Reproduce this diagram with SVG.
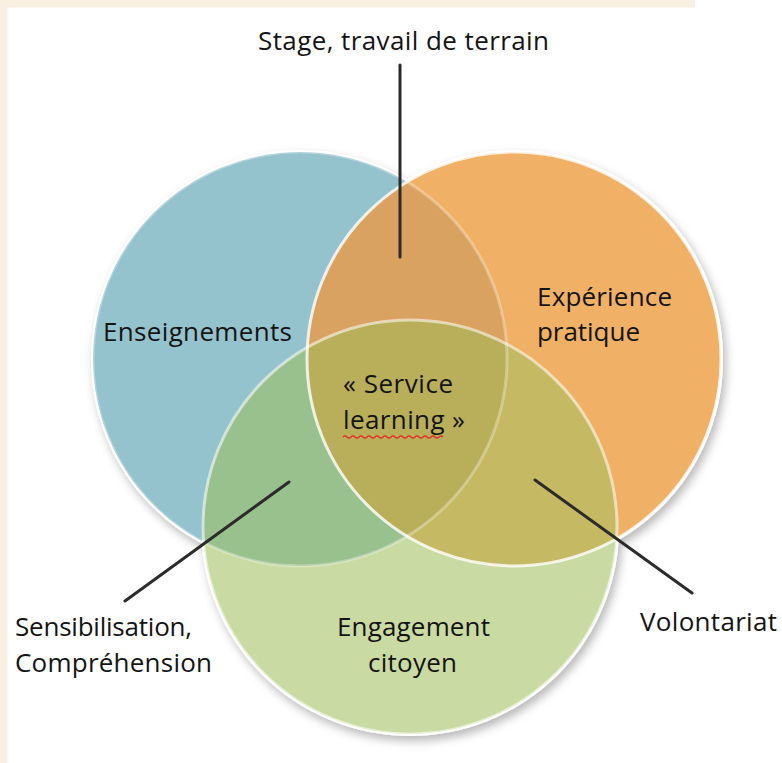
<svg xmlns="http://www.w3.org/2000/svg" width="782" height="763" viewBox="0 0 782 763">
  <style>
    .lbl { font-family: "Open Sans", Lato, "Liberation Sans", sans-serif; font-size: 26px; fill: #141414; font-variant-ligatures: none; }
    .edge { fill: none; stroke: #ffffff; stroke-width: 3; }
    .conn { stroke: #2b2b2b; stroke-width: 3; stroke-linecap: round; fill: none; }
  </style>
  <defs>
    <clipPath id="clipB"><circle cx="300" cy="359" r="207"/></clipPath>
    <clipPath id="clipO"><circle cx="514" cy="359" r="207"/></clipPath>
    <clipPath id="clipG"><circle cx="410" cy="527" r="207"/></clipPath>
    <filter id="shadow" x="-20%" y="-20%" width="140%" height="140%">
      <feDropShadow dx="3" dy="5" stdDeviation="5" flood-color="#000000" flood-opacity="0.28"/>
    </filter>
  </defs>

  <rect x="0" y="0" width="782" height="763" fill="#ffffff"/>
  <rect x="0" y="0" width="695" height="7.5" fill="#f9f0e2"/>
  <rect x="0" y="0" width="7.5" height="763" fill="#f9f0e2"/>

  <!-- shadow + white outer rims -->
  <g filter="url(#shadow)">
    <circle cx="300" cy="359" r="207" fill="#ffffff" stroke="#ffffff" stroke-width="4"/>
    <circle cx="514" cy="359" r="207" fill="#ffffff" stroke="#ffffff" stroke-width="4"/>
    <circle cx="410" cy="527" r="207" fill="#ffffff" stroke="#ffffff" stroke-width="4"/>
  </g>

  <g id="enseignements">
    <circle cx="300" cy="359" r="207" fill="#94c2cd"/>
  </g>
  <g id="experience">
    <circle cx="514" cy="359" r="207" fill="#f0b166"/>
  </g>
  <g id="engagement">
    <circle cx="410" cy="527" r="207" fill="#c9dba3"/>
  </g>

  <g id="overlaps">
    <circle cx="514" cy="359" r="207" fill="#d9a260" clip-path="url(#clipB)"/>
    <circle cx="410" cy="527" r="207" fill="#99c18e" clip-path="url(#clipB)"/>
    <circle cx="410" cy="527" r="207" fill="#c6b964" clip-path="url(#clipO)"/>
    <g clip-path="url(#clipB)">
      <circle cx="410" cy="527" r="207" fill="#b9af5b" clip-path="url(#clipO)"/>
    </g>
  </g>

  <g id="edges">
    <circle class="edge" cx="300" cy="359" r="207" stroke-opacity="0.3"/>
    <circle class="edge" cx="514" cy="359" r="207" stroke-opacity="0.8"/>
    <circle class="edge" cx="410" cy="527" r="207" stroke-opacity="0.55"/>
  </g>

  <g id="connectors">
    <line class="conn" x1="400" y1="65" x2="400" y2="257"/>
    <line class="conn" x1="289" y1="482" x2="125" y2="601"/>
    <line class="conn" x1="535" y1="480" x2="692" y2="593"/>
  </g>

  <g id="labels">
    <text class="lbl" x="258" y="50" textLength="291">Stage, travail de terrain</text>
    <text class="lbl" x="103" y="341" textLength="189">Enseignements</text>
    <text class="lbl"><tspan x="537" y="306" textLength="135">Expérience</tspan><tspan x="537" y="341" textLength="103">pratique</tspan></text>
    <text class="lbl"><tspan x="343" y="393" textLength="110">« Service</tspan><tspan x="343" y="429" textLength="122">learning »</tspan></text>
    <text class="lbl"><tspan x="337" y="636" textLength="153">Engagement</tspan><tspan x="368" y="672" textLength="89">citoyen</tspan></text>
    <text class="lbl"><tspan x="15" y="636" textLength="177">Sensibilisation,</tspan><tspan x="15" y="672" textLength="197">Compréhension</tspan></text>
    <text class="lbl" x="640" y="631" textLength="137">Volontariat</text>
  </g>
  <path d="M343 437 q2 -2 4 0 t4 0 t4 0 t4 0 t4 0 t4 0 t4 0 t4 0 t4 0 t4 0 t4 0 t4 0 t4 0 t4 0 t4 0 t4 0 t4 0 t4 0 t4 0 t4 0 t4 0 t4 0 t4 0 t4 0 t4 0" fill="none" stroke="#e0302a" stroke-width="1.2"/>
</svg>
